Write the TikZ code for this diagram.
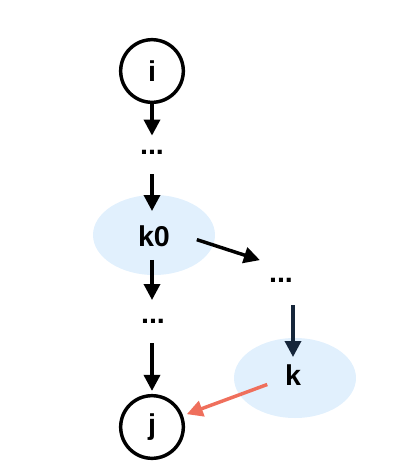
\documentclass[tikz,border=0pt]{standalone}
\usepackage{fontspec}
\setmainfont{Liberation Sans}
\usepackage{tikz}
\usetikzlibrary{arrows.meta}
\usetikzlibrary{shapes}
\definecolor{blobblue}{HTML}{E1F0FD}
\definecolor{linkred}{HTML}{EF6F5C}
\definecolor{darknavy}{HTML}{16263A}
\tikzstyle{arr} = [-{Triangle[length=12pt, width=12pt]}, line width=2.6pt]
\tikzstyle{lbl} = [draw=none, inner sep=0, font=\fontsize{21.5}{25}\selectfont\bfseries]
\tikzstyle{endpt} = [lbl, circle, draw=black, line width=2.6pt, minimum size=47pt]

\begin{document}
\begin{tikzpicture}[x=0.75pt, y=-0.75pt]
\useasboundingbox (0,0) rectangle (412,476);
% shaded blobs behind k0 and k
\fill [blobblue] (154,235) ellipse (45.75pt and 30pt);
\fill [blobblue] (295,378) ellipse (45.75pt and 30pt);
\node [endpt] (i) at (152,71) {i};
\node [lbl] (d1) at (152,152) {...};
\node [lbl] (k0) at (154,236) {k0};
\node [lbl] (d2) at (153,321) {...};
\node [endpt] (j) at (152,427) {j};
\node [lbl] (d3) at (281,280) {...};
\node [lbl] (k) at (293,375) {k};
\draw [arr, shorten >=10.5pt] (i) -- (d1);
\draw [arr, shorten <=15pt, shorten >=18.75pt] (d1) -- (d1 |- k0);
\draw [arr, shorten <=9.75pt, shorten >=15.75pt] (d1 |- k0.south) -- (d1 |- d2);
\draw [arr, shorten <=16.5pt, shorten >=2.25pt] (d1 |- d2) -- (j);
\draw [arr, shorten <=21pt, shorten >=7pt] ([yshift=3.75pt]k0.east) -- ([yshift=12.75pt]d3.west);
\draw [arr, draw=darknavy, fill=darknavy, shorten <=17.25pt, shorten >=13.5pt] (k |- d3.south) -- (k.center);
\draw [arr, draw=linkred, fill=linkred, shorten <=14pt, shorten >=3pt] (k) -- (j);
\end{tikzpicture}
\end{document}
